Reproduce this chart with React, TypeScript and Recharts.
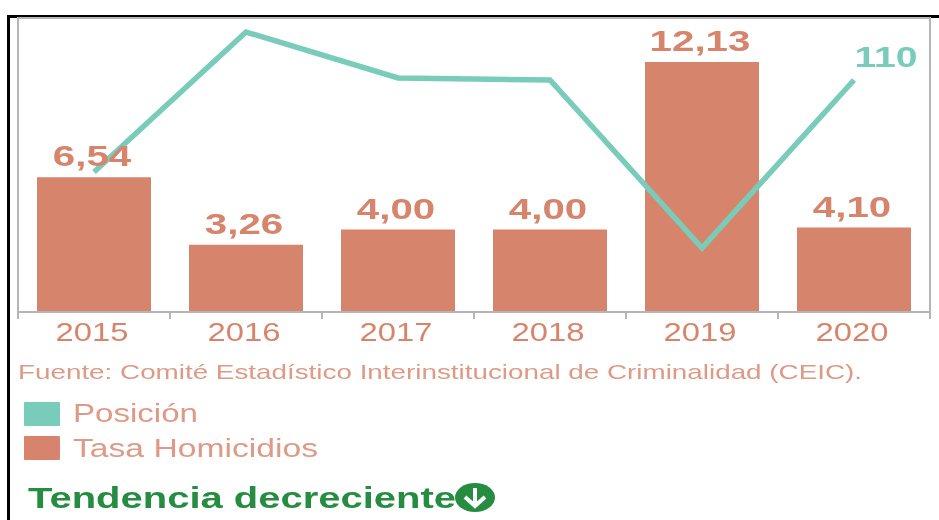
import React from "react";
import {
  ComposedChart,
  Bar,
  Line,
  XAxis,
  YAxis,
  Legend,
  LabelList,
  ReferenceArea,
} from "recharts";

const years = ["2015", "2016", "2017", "2018", "2019", "2020"];
const tasaHomicidios = [6.54, 3.26, 4.0, 4.0, 12.13, 4.1];
const posicion = [64, 134, 111, 110, 26, 110];

const data = years.map((year, i) => ({
  year,
  tasa: tasaHomicidios[i],
  posicion: posicion[i],
}));

const BAR_COLOR = "#d6856c";
const LINE_COLOR = "#7accba";
const TEXT_COLOR = "#dd9a87";
const GREEN = "#258c42";
const FONT = "'Liberation Sans', Arial, sans-serif";
const BAND = 152;

const StretchedText = ({ x, y, size, sx, fill, bold, anchor, children }: any) => (
  <text
    transform={`translate(${x},${y}) scale(${sx},1)`}
    fontFamily={FONT}
    fontSize={size}
    fontWeight={bold ? 700 : 400}
    fill={fill}
    textAnchor={anchor || "middle"}
  >
    {children}
  </text>
);

const YearTick = ({ x, y, payload, index }: any) => (
  <g>
    <line x1={x - BAND / 2} x2={x - BAND / 2} y1={312} y2={319} stroke="#b5b5b5" strokeWidth={2} />
    {index === years.length - 1 && (
      <line x1={x + BAND / 2} x2={x + BAND / 2} y1={312} y2={319} stroke="#b5b5b5" strokeWidth={2} />
    )}
    <StretchedText x={x - 2} y={341} size={26} sx={1.26} fill={BAR_COLOR}>
      {payload.value}
    </StretchedText>
  </g>
);

const BarValue = ({ x, y, width, value }: any) => (
  <StretchedText x={x + width / 2 - 2} y={y - 11} size={29} sx={1.39} fill={BAR_COLOR} bold>
    {Number(value).toFixed(2).replace(".", ",")}
  </StretchedText>
);

const LastPosition = ({ x, y, value, index }: any) =>
  index === years.length - 1 ? (
    <StretchedText x={x + 32} y={y - 13} size={29} sx={1.35} fill={LINE_COLOR} bold>
      {value}
    </StretchedText>
  ) : null;

const LegendBox = ({ payload }: any) => (
  <svg width={340} height={70} style={{ display: "block" }}>
    {(payload || []).map((entry: any, i: number) => (
      <g key={entry.value}>
        <rect x={0} y={i * 34} width={36} height={24} rx={1} fill={entry.color} />
        <text
          x={49}
          y={i * 35 + 20}
          fontFamily={FONT}
          fontSize={25}
          fill={TEXT_COLOR}
          textLength={i === 0 ? 125 : 245}
          lengthAdjust="spacingAndGlyphs"
        >
          {entry.value}
        </text>
      </g>
    ))}
  </svg>
);

export default function App() {
  return (
    <div
      style={{
        position: "fixed",
        left: 0,
        top: 0,
        width: 939,
        height: 520,
        overflow: "hidden",
        background: "#fff",
        filter: "blur(0.45px)",
      }}
    >
      <div
        style={{
          position: "absolute",
          left: 7,
          top: 15,
          width: 1000,
          height: 600,
          borderLeft: "3px solid #000",
          borderTop: "3px solid #000",
        }}
      />
      <ComposedChart
        width={939}
        height={520}
        data={data}
        margin={{ top: 18, right: 9, bottom: 0, left: 18 }}
        barCategoryGap="12.5%"
        style={{ position: "absolute", left: 0, top: 0 }}
      >
        {/* the legend box takes its 70px out of the plot as well */}
        <XAxis
          dataKey="year"
          height={138}
          axisLine={{ stroke: "#b5b5b5", strokeWidth: 2 }}
          tickLine={false}
          tick={<YearTick />}
          interval={0}
        />
        <YAxis yAxisId="tasa" hide domain={[0, 14.27]} />
        <YAxis yAxisId="posicion" hide domain={[-6, 141]} />
        <ReferenceArea yAxisId="tasa" y1={0} y2={14.27} fill="none" stroke="#b5b5b5" strokeWidth={2} />
        <Bar yAxisId="tasa" dataKey="tasa" name="Tasa Homicidios" fill={BAR_COLOR} isAnimationActive={false}>
          <LabelList dataKey="tasa" content={<BarValue />} />
        </Bar>
        <Line
          yAxisId="posicion"
          dataKey="posicion"
          name="Posición"
          stroke={LINE_COLOR}
          strokeWidth={5.5}
          dot={false}
          isAnimationActive={false}
        >
          <LabelList dataKey="posicion" content={<LastPosition />} />
        </Line>
        <Legend
          layout="vertical"
          content={<LegendBox />}
          wrapperStyle={{ position: "absolute", left: 24, top: 402, width: 340, height: 70 }}
        />
      </ComposedChart>
      <svg width={939} height={520} style={{ position: "absolute", left: 0, top: 0, pointerEvents: "none" }}>
        <text
          x={18}
          y={379}
          fontFamily={FONT}
          fontSize={21}
          fill={TEXT_COLOR}
          textLength={844}
          lengthAdjust="spacingAndGlyphs"
        >
          Fuente: Comité Estadístico Interinstitucional de Criminalidad (CEIC).
        </text>
        <text
          x={28}
          y={508}
          fontFamily={FONT}
          fontSize={29}
          fontWeight={700}
          fill={GREEN}
          textLength={428}
          lengthAdjust="spacingAndGlyphs"
        >
          Tendencia decreciente
        </text>
        <ellipse cx={475} cy={497.5} rx={20} ry={14.5} fill={GREEN} />
        <path d="M475 488 V505 M465 497 L475 506 L485 497" fill="none" stroke="#fff" strokeWidth={4} />
      </svg>
    </div>
  );
}
